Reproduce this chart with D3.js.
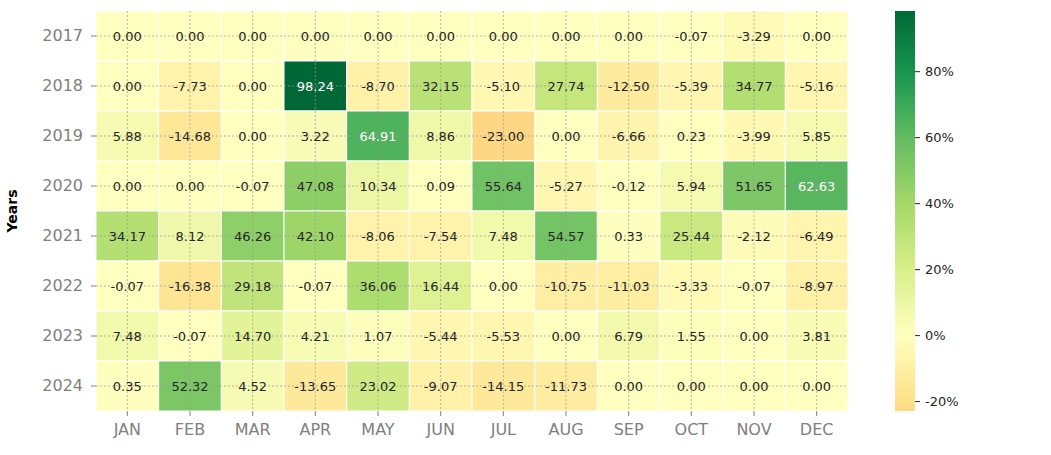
<!DOCTYPE html>
<html><head><meta charset="utf-8">
<script src="https://cdn.jsdelivr.net/npm/d3@7"></script>
<style>body{margin:0;background:#fff}svg{display:block;font-family:"DejaVu Sans",sans-serif}</style>
</head><body><svg id="c" width="1051" height="455"></svg>
<script>
const months = ["JAN","FEB","MAR","APR","MAY","JUN","JUL","AUG","SEP","OCT","NOV","DEC"];
const years = ["2017","2018","2019","2020","2021","2022","2023","2024"];
const r2017 = [0,0,0,0,0,0,0,0,0,-0.07,-3.29,0];
const r2018 = [0,-7.73,0,98.24,-8.70,32.15,-5.10,27.74,-12.50,-5.39,34.77,-5.16];
const r2019 = [5.88,-14.68,0,3.22,64.91,8.86,-23.00,0,-6.66,0.23,-3.99,5.85];
const r2020 = [0,0,-0.07,47.08,10.34,0.09,55.64,-5.27,-0.12,5.94,51.65,62.63];
const r2021 = [34.17,8.12,46.26,42.10,-8.06,-7.54,7.48,54.57,0.33,25.44,-2.12,-6.49];
const r2022 = [-0.07,-16.38,29.18,-0.07,36.06,16.44,0.00,-10.75,-11.03,-3.33,-0.07,-8.97];
const r2023 = [7.48,-0.07,14.70,4.21,1.07,-5.44,-5.53,0.00,6.79,1.55,0.00,3.81];
const r2024 = [0.35,52.32,4.52,-13.65,23.02,-9.07,-14.15,-11.73,0,0,0,0];
const rows = [r2017,r2018,r2019,r2020,r2021,r2022,r2023,r2024];
const cbTicks = [-20,0,20,40,60,80];

const svg = d3.select("#c");
const L=96,R=848,T=11,B=411;
const x = d3.scaleBand().domain(months).range([L,R]).padding(0);
const y = d3.scaleBand().domain(years).range([T,B]).padding(0);

const all = rows.flat();
const vmin = d3.min(all), vmax = d3.max(all);
const vr = Math.max(vmax-0, 0-vmin);
const cmin = (vmin+vr)/(2*vr), cmax=(vmax+vr)/(2*vr);
const brew = ["#a50026","#d73027","#f46d43","#fdae61","#fee08b","#ffffbf","#d9ef8b","#a6d96a","#66bd63","#1a9850","#006837"];
const base = d3.scaleLinear().domain(d3.range(11).map(i=>i/10)).range(brew).interpolate(d3.interpolateRgb);
const color = v => base(cmin + (v-vmin)/(vmax-vmin)*(cmax-cmin));
function lum(c){const o=d3.rgb(c);const f=u=>{u/=255;return u<=0.03928?u/12.92:Math.pow((u+0.055)/1.055,2.4)};return 0.2126*f(o.r)+0.7152*f(o.g)+0.0722*f(o.b);}

const cells=[];
rows.forEach((r,i)=>r.forEach((v,j)=>cells.push({yr:years[i],m:months[j],v})));
svg.append("g").selectAll("rect").data(cells).join("rect")
  .attr("x",d=>x(d.m)).attr("y",d=>y(d.yr)).attr("width",x.bandwidth()).attr("height",y.bandwidth())
  .attr("fill",d=>color(d.v)).attr("stroke","#fff").attr("stroke-width",1);

// grid
const g = svg.append("g").attr("stroke","#999").attr("stroke-width",0.7).attr("stroke-dasharray","2,2");
months.forEach(m=>g.append("line").attr("x1",x(m)+x.bandwidth()/2).attr("x2",x(m)+x.bandwidth()/2).attr("y1",T).attr("y2",B));
years.forEach(yy=>g.append("line").attr("y1",y(yy)+y.bandwidth()/2).attr("y2",y(yy)+y.bandwidth()/2).attr("x1",L).attr("x2",R));

svg.append("g").selectAll("text").data(cells).join("text")
  .attr("x",d=>x(d.m)+x.bandwidth()/2).attr("y",d=>y(d.yr)+y.bandwidth()/2).attr("dy","0.35em")
  .attr("text-anchor","middle").attr("font-size",13)
  .attr("fill",d=>lum(color(d.v))>0.408?"#262626":"#ffffff").text(d=>d.v.toFixed(2));

// axes
const ax = svg.append("g").attr("transform",`translate(0,${B})`).call(d3.axisBottom(x).tickSize(5).tickPadding(5));
const ay = svg.append("g").attr("transform",`translate(${L},0)`).call(d3.axisLeft(y).tickSize(5).tickPadding(8));
[ax,ay].forEach(a=>{a.select(".domain").remove();a.selectAll(".tick line").attr("stroke","#808080");
  a.selectAll("text").attr("fill","#808080").attr("font-size",16).attr("font-family","DejaVu Sans");});
ax.selectAll("text").attr("dy","0.85em");

svg.append("text").attr("transform","translate(17,211) rotate(-90)").attr("text-anchor","middle")
  .attr("font-size",14).attr("font-weight","bold").attr("fill","#000").text("Years");

// colorbar
const CL=895,CR=915;
const cy = d3.scaleLinear().domain([vmin,vmax]).range([B,T]);
const defs=svg.append("defs");
const gr=defs.append("linearGradient").attr("id","cb").attr("x1",0).attr("x2",0).attr("y1",1).attr("y2",0);
d3.range(0,65).forEach(i=>{const t=i/64;gr.append("stop").attr("offset",t).attr("stop-color",color(vmin+t*(vmax-vmin)));});
svg.append("rect").attr("x",CL).attr("y",T).attr("width",CR-CL).attr("height",B-T).attr("fill","url(#cb)");
const ac = svg.append("g").attr("transform",`translate(${CR},0)`)
  .call(d3.axisRight(cy).tickValues(cbTicks).tickFormat(d=>d+"%").tickSize(5).tickPadding(5));
ac.select(".domain").remove();
ac.selectAll(".tick line").attr("stroke","#262626");
ac.selectAll("text").attr("fill","#262626").attr("font-size",13).attr("font-family","DejaVu Sans");
</script></body></html>
